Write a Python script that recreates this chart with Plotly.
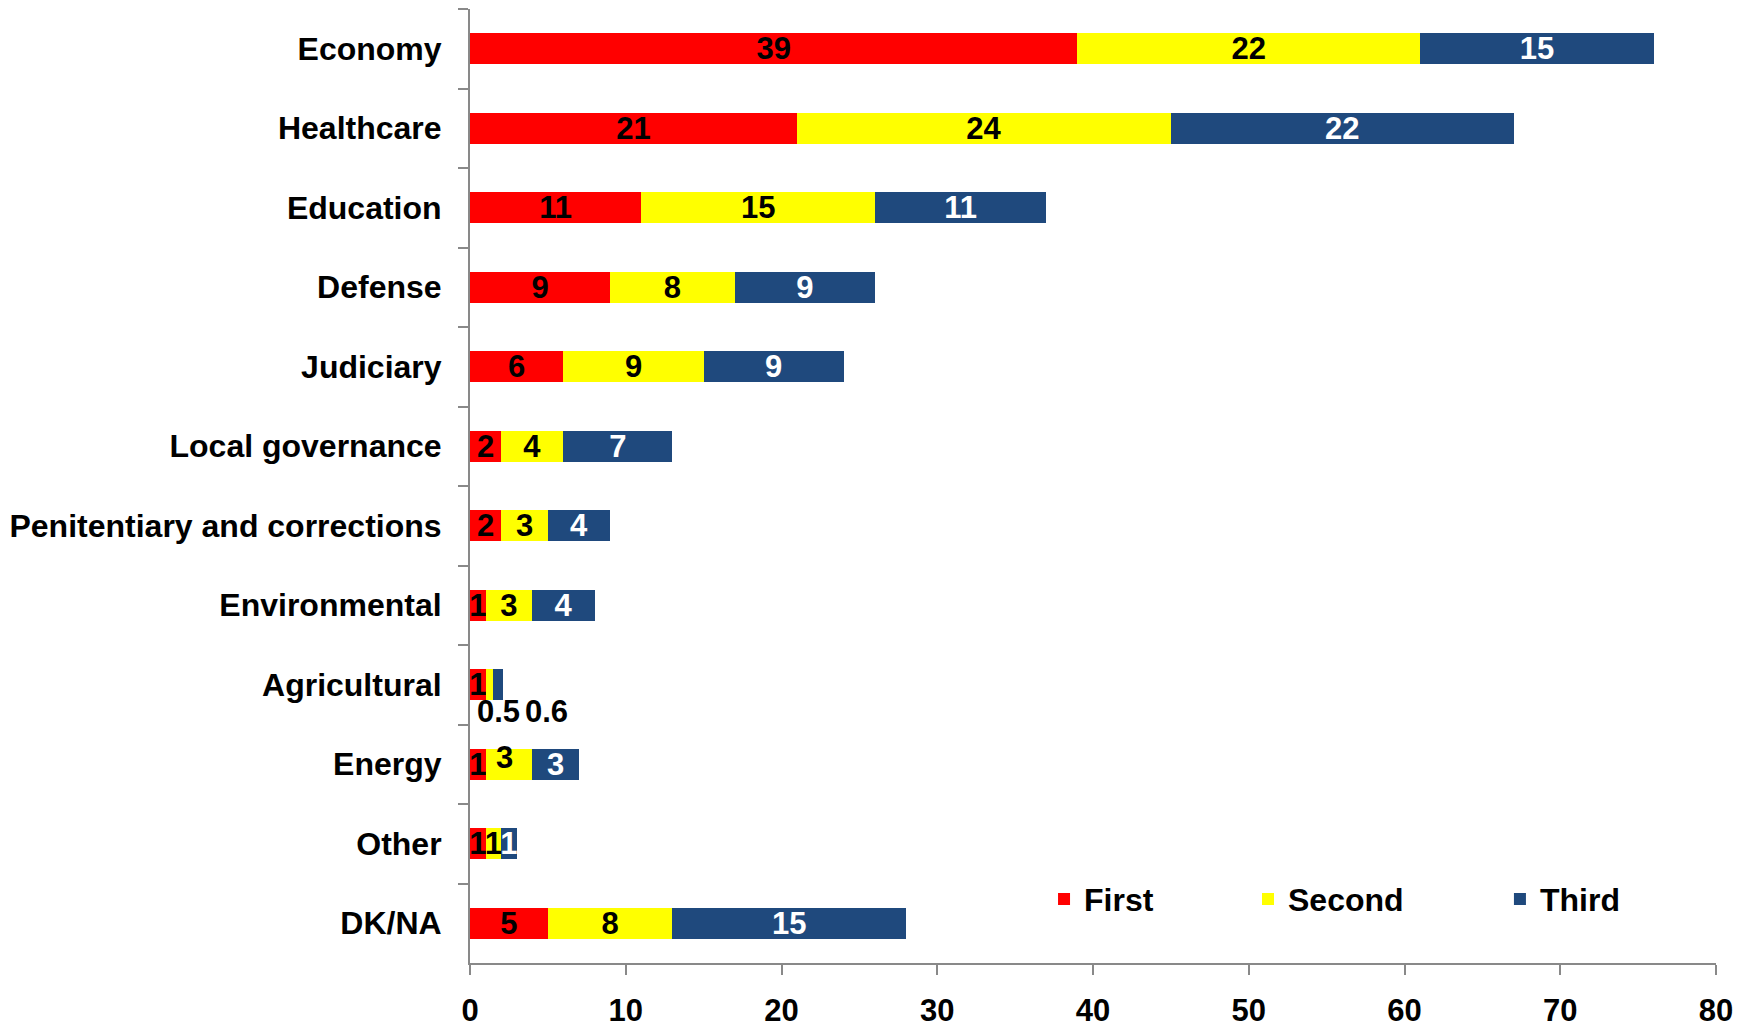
import plotly.graph_objects as go

# Survey: priority areas, share of respondents naming each as first/second/third choice
categories = [
    "Economy", "Healthcare", "Education", "Defense", "Judiciary",
    "Local governance", "Penitentiary and corrections", "Environmental",
    "Agricultural", "Energy", "Other", "DK/NA",
]
first = [39, 21, 11, 9, 6, 2, 2, 1, 1, 1, 1, 5]
second = [22, 24, 15, 8, 9, 4, 3, 3, 0.5, 3, 1, 8]
third = [15, 22, 11, 9, 9, 7, 4, 4, 0.6, 3, 1, 15]
x_ticks = [0, 10, 20, 30, 40, 50, 60, 70, 80]

FONT = "Liberation Sans, Arial, sans-serif"
GRAY = "#898989"

series = [
    ("First", first, "#FF0000", "black", "legend"),
    ("Second", second, "#FFFF00", "black", "legend2"),
    ("Third", third, "#1F497D", "white", "legend3"),
]

# labels drawn off-centre (placed separately as annotations)
offset_labels = {
    ("Second", "Agricultural"): dict(xshift=9, yshift=-27),
    ("Third", "Agricultural"): dict(xshift=48, yshift=-27),
    ("Second", "Energy"): dict(xshift=-4, yshift=7),
}

fig = go.Figure()
annotations = []
base = [0.0] * len(categories)
for name, vals, color, txtcolor, leg in series:
    texts = []
    for i, (cat, v) in enumerate(zip(categories, vals)):
        key = (name, cat)
        if key in offset_labels:
            texts.append("")
            annotations.append(dict(
                x=base[i] + v / 2, y=cat, xref="x", yref="y",
                text=f"{v:g}", showarrow=False,
                font=dict(family=FONT, size=31, color="black", weight="bold"),
                **offset_labels[key],
            ))
        else:
            texts.append(f"{v:g}")
    fig.add_trace(go.Bar(
        name=name, y=categories, x=vals, orientation="h",
        marker=dict(color=color, line=dict(width=0)),
        text=texts, textposition="inside", insidetextanchor="middle",
        textangle=0, constraintext="none",
        textfont=dict(family=FONT, size=31, color=txtcolor, weight="bold"),
        legend=leg, showlegend=True, hoverinfo="skip",
    ))
    base = [b + v for b, v in zip(base, vals)]

legend_style = dict(
    orientation="h", yanchor="middle", y=0.067, xanchor="left",
    bgcolor="rgba(0,0,0,0)", visible=True,
    font=dict(family=FONT, size=32, color="black", weight="bold"),
)

fig.update_layout(
    barmode="stack",
    bargap=0.61,
    width=1752, height=1025,
    margin=dict(l=470, r=36, t=9, b=62),
    paper_bgcolor="white", plot_bgcolor="white",
    font=dict(family=FONT, color="black"),
    showlegend=True,
    legend=dict(x=0.4607, **legend_style),
    legend2=dict(x=0.6244, **legend_style),
    legend3=dict(x=0.8266, **legend_style),
    annotations=annotations,
    xaxis=dict(
        range=[0, 80], tickvals=x_ticks, ticktext=[str(t) for t in x_ticks],
        showgrid=False, zeroline=False, automargin=False,
        showline=True, linecolor=GRAY, linewidth=2,
        ticks="outside", ticklen=10, tickcolor=GRAY, tickwidth=1.5,
        tickfont=dict(family=FONT, size=31, color="black", weight="bold"),
        ticklabelstandoff=9,
    ),
    yaxis=dict(
        categoryorder="array", categoryarray=categories,
        range=[len(categories) - 0.5, -0.5],
        showgrid=False, zeroline=False, automargin=False,
        showline=True, linecolor=GRAY, linewidth=2,
        ticks="outside", ticklen=10, tickcolor=GRAY, tickwidth=1.5,
        tickson="boundaries",
        tickfont=dict(family=FONT, size=32, color="black", weight="bold"),
        ticklabelstandoff=20,
    ),
)

fig.write_html("out.html")
